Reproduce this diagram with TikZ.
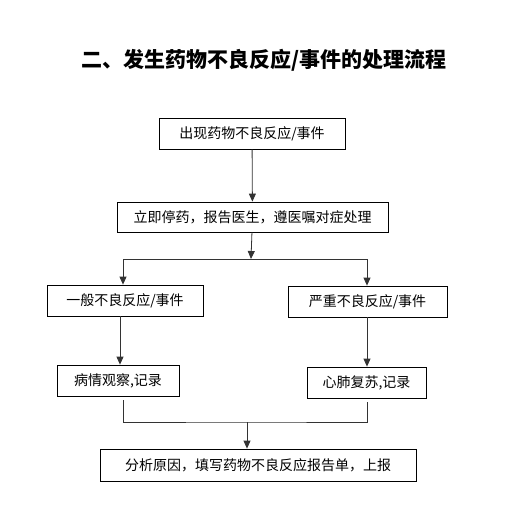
\documentclass[tikz,border=0pt]{standalone}
\usepackage{fontspec}
\setmainfont{Noto Sans CJK SC}
\usetikzlibrary{arrows.meta, positioning}

\begin{document}
\begin{tikzpicture}[
    x=1pt, y=-1pt, >={Triangle[length=8pt, width=7pt]},
    stepbox/.style={draw, line width=0.8pt, inner sep=0pt,
                    minimum height=31pt, font=\fontsize{14}{16}\selectfont},
    link/.style={->, line width=0.8pt, black!80}
  ]
  \useasboundingbox (0,0) rectangle (525,507);

  % Title
  \node[font=\bfseries\fontsize{21}{24}\selectfont] (title) at (264,60)
    {二、发生药物不良反应/事件的处理流程};

  % Boxes
  \node[stepbox, minimum width=186pt] (b1) at (252,133.5) {出现药物不良反应/事件};
  \node[stepbox, minimum width=271pt, minimum height=30pt] (b2) at (252.5,217)
    {立即停药，报告医生，遵医嘱对症处理};
  \node[stepbox, minimum width=156pt] (b3) at (125,300.5) {一般不良反应/事件};
  \node[stepbox, minimum width=159pt] (b4) at (367.5,301.5) {严重不良反应/事件};
  \node[stepbox, minimum width=122pt] (b5) at (118,380.5) {病情观察,记录};
  \node[stepbox, minimum width=119pt] (b6) at (366.5,382.5) {心肺复苏,记录};
  \node[stepbox, minimum width=316pt, minimum height=32pt] (b7) at (258,465)
    {分析原因，填写药物不良反应报告单，上报};

  % Junctions
  \coordinate (split) at (251,259);
  \coordinate (mL) at (123,400);
  \coordinate (mR) at (367,402);
  \coordinate (join) at (247,422);

  % Connections
  \draw[link] (b1) -- (b2);
  \draw[link] (b2) -- (split);
  \draw[link] (split) -| (b3.north -| mL);
  \draw[link] (split) -| (b4.north -| mR);
  \draw[link] (b3.south -| 120,0) -- (b5.north -| 120,0);
  \draw[link] (b4.south -| mR) -- (b6.north -| mR);
  \draw[link, -] (mL) |- (join) -| (mR);
  \draw[link] (join) -- (join |- b7.north);
\end{tikzpicture}
\end{document}
